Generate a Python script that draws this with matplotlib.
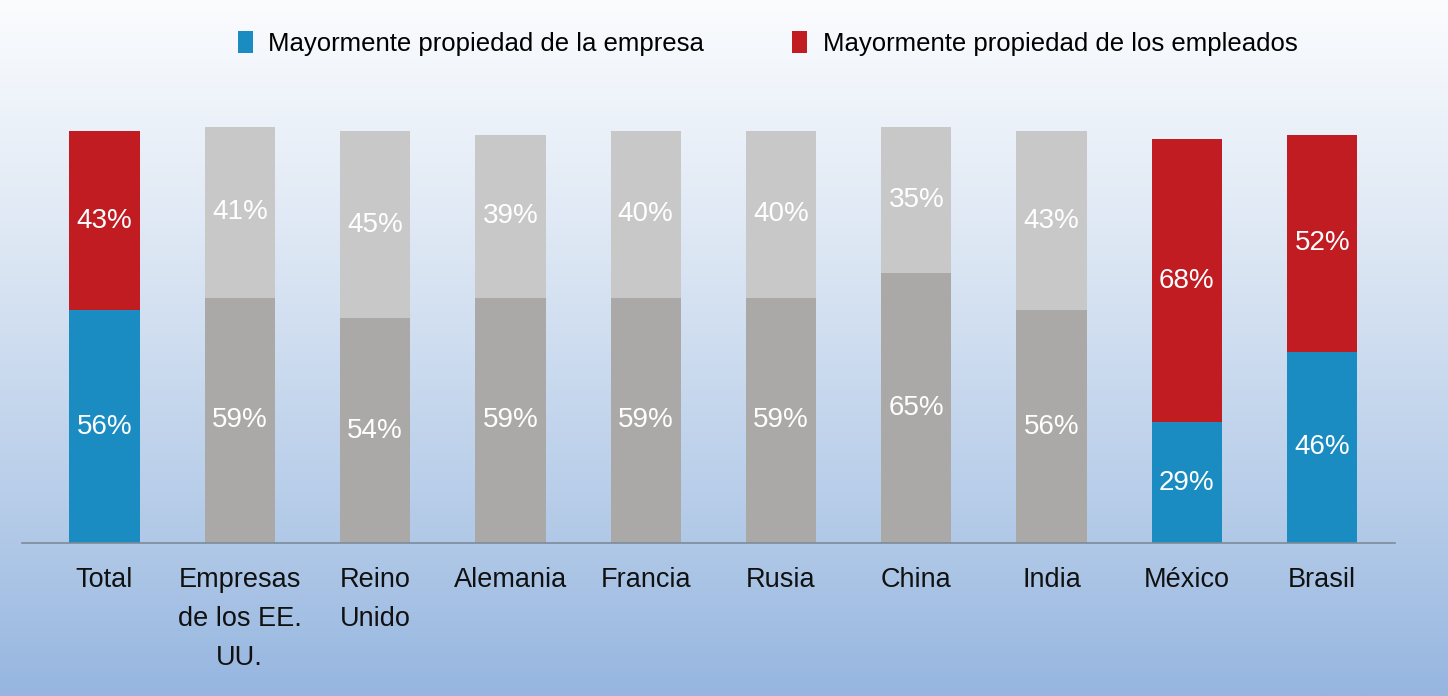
import numpy as np
import matplotlib
matplotlib.use("Agg")
import matplotlib.pyplot as plt
from matplotlib.colors import LinearSegmentedColormap
from matplotlib.patches import Patch

plt.rcParams['font.family'] = ['Liberation Sans', 'DejaVu Sans']

categories = ['Total', 'Empresas\nde los EE.\nUU.', 'Reino\nUnido', 'Alemania', 'Francia',
              'Rusia', 'China', 'India', 'México', 'Brasil']
empresa = [56, 59, 54, 59, 59, 59, 65, 56, 29, 46]
empleados = [43, 41, 45, 39, 40, 40, 35, 43, 68, 52]
highlight = [True, False, False, False, False, False, False, False, True, True]

BLUE = '#1a8cc2'
RED = '#c01c22'
GRAY_LO = '#aba9a8'
GRAY_HI = '#c8c8c8'

W, H = 1448, 696
fig = plt.figure(figsize=(W / 100, H / 100), dpi=100)

# gradient background
bg = fig.add_axes([0, 0, 1, 1], zorder=-10)
cmap = LinearSegmentedColormap.from_list('bg', [(0.0, '#fbfcfe'), (0.35, '#dde7f4'),
                                                (0.75, '#b4cbe8'), (1.0, '#96b6e0')])
grad = np.linspace(0, 1, 256).reshape(-1, 1)
bg.imshow(grad, aspect='auto', cmap=cmap, extent=[0, 1, 0, 1], origin='upper')
bg.axis('off')

# main axes: baseline at y=543 px, x from 22 to 1395 px
left, right = 22 / W, 1395 / W
bottom, top = (H - 543) / H, (H - 100) / H
ax = fig.add_axes([left, bottom, right - left, top - bottom])
ax.patch.set_alpha(0)

x = np.arange(len(categories))
c_lo = [BLUE if h else GRAY_LO for h in highlight]
c_hi = [RED if h else GRAY_HI for h in highlight]
ax.bar(x, empresa, width=0.52, color=c_lo)
ax.bar(x, empleados, width=0.52, bottom=empresa, color=c_hi)

for i in x:
    ax.text(i, empresa[i] / 2, f'{empresa[i]}%', ha='center', va='center',
            color='white', fontsize=20)
    ax.text(i, empresa[i] + empleados[i] / 2, f'{empleados[i]}%', ha='center', va='center',
            color='white', fontsize=20)

ax.set_xlim((22 - 104.5) / 135.3, (1395 - 104.5) / 135.3)
ax.set_ylim(0, 443 / 4.16)
ax.set_xticks(x)
ax.set_xticklabels(categories, fontsize=19.5, color='#111111', linespacing=1.65, va='top')
ax.tick_params(axis='x', length=0, pad=17)
ax.set_yticks([])
for s in ['top', 'right', 'left']:
    ax.spines[s].set_visible(False)
ax.spines['bottom'].set_color('#7d8b99')
ax.spines['bottom'].set_linewidth(1.2)

handles = [Patch(facecolor=BLUE, edgecolor='none', label='Mayormente propiedad de la empresa'),
           Patch(facecolor=RED, edgecolor='none', label='Mayormente propiedad de los empleados')]
fig.legend(handles=handles, loc='center', bbox_to_anchor=(0.530, 0.938), ncol=2,
           frameon=False, fontsize=18.5, handlelength=0.6, handleheight=1.0,
           handletextpad=0.6, columnspacing=3.4)

fig.savefig('out.png', dpi=100)
